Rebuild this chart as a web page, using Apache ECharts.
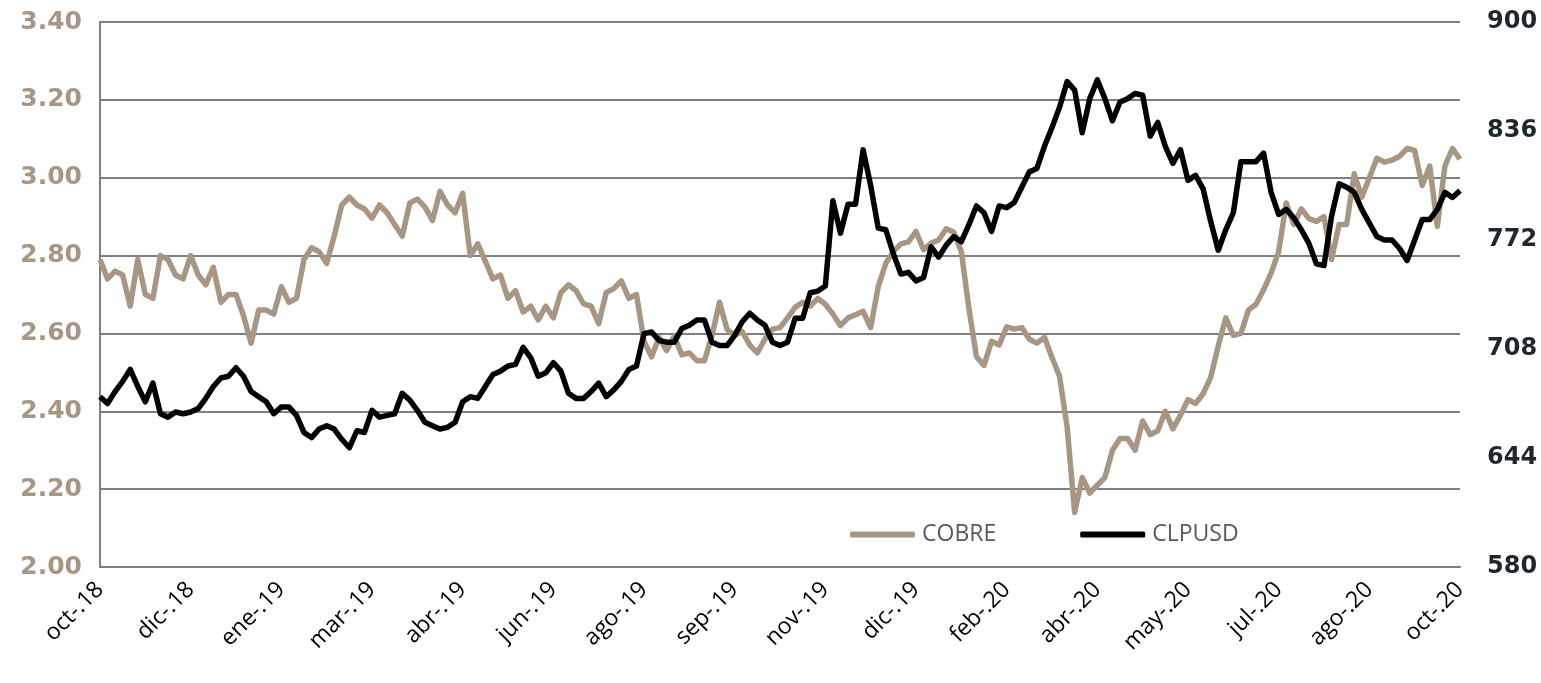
<!DOCTYPE html>
<html>
<head>
<meta charset="utf-8">
<script src="https://cdn.jsdelivr.net/npm/echarts@6/dist/echarts.min.js"></script>
<style>
  html, body { margin: 0; padding: 0; background: #fff; }
  #chart { width: 1541px; height: 683px; }
</style>
</head>
<body>
<div id="chart"></div>
<script>
// etiquetas del eje x (una cada 12 puntos)
const tickLabels = ['oct-.18', 'dic-.18', 'ene-.19', 'mar-.19', 'abr-.19', 'jun-.19', 'ago-.19', 'sep-.19',
  'nov-.19', 'dic-.19', 'feb-.20', 'abr-.20', 'may-.20', 'jul-.20', 'ago-.20', 'oct-.20'];

// cobre, US$/lb (eje izquierdo)
const cobre = [
  2.79, 2.74, 2.76, 2.75, 2.67, 2.79, 2.70, 2.69, 2.80, 2.79,
  2.75, 2.74, 2.80, 2.75, 2.725, 2.77, 2.68, 2.70, 2.70, 2.645,
  2.575, 2.66, 2.66, 2.65, 2.72, 2.68, 2.69, 2.79, 2.82, 2.81,
  2.78, 2.85, 2.93, 2.95, 2.93, 2.92, 2.896, 2.93, 2.91, 2.88,
  2.85, 2.935, 2.945, 2.925, 2.89, 2.965, 2.93, 2.91, 2.96, 2.80,
  2.83, 2.785, 2.74, 2.75, 2.69, 2.71, 2.655, 2.67, 2.635, 2.67,
  2.64, 2.705, 2.725, 2.71, 2.676, 2.67, 2.625, 2.705, 2.715, 2.735,
  2.69, 2.70, 2.58, 2.54, 2.59, 2.556, 2.593, 2.545, 2.55, 2.53,
  2.53, 2.595, 2.68, 2.61, 2.595, 2.605, 2.57, 2.55, 2.585, 2.611,
  2.615, 2.64, 2.667, 2.68, 2.67, 2.69, 2.675, 2.65, 2.62, 2.64,
  2.648, 2.657, 2.615, 2.72, 2.78, 2.81, 2.83, 2.835, 2.862, 2.815,
  2.832, 2.84, 2.869, 2.86, 2.81, 2.665, 2.54, 2.518, 2.58, 2.57,
  2.617, 2.611, 2.615, 2.585, 2.575, 2.59, 2.538, 2.49, 2.36, 2.14,
  2.23, 2.19, 2.21, 2.23, 2.30, 2.33, 2.33, 2.30, 2.375, 2.34,
  2.35, 2.40, 2.355, 2.39, 2.43, 2.42, 2.445, 2.487, 2.568, 2.64,
  2.595, 2.60, 2.66, 2.675, 2.712, 2.755, 2.81, 2.935, 2.88, 2.92,
  2.895, 2.888, 2.90, 2.79, 2.88, 2.88, 3.01, 2.95, 3.00, 3.05,
  3.04, 3.045, 3.055, 3.075, 3.07, 2.98, 3.03, 2.875, 3.03, 3.075,
  3.048
];

// peso chileno por dólar (eje derecho)
const clpusd = [
  680, 676, 683, 689, 696, 686, 677, 688, 670, 668,
  671, 670, 671, 673, 679, 686, 691, 692, 697, 692,
  683, 680, 677, 670, 674, 674, 669, 659, 656, 661,
  663, 661, 655, 650, 660, 659, 672, 668, 669, 670,
  682, 678, 672, 665, 663, 661, 662, 665, 677, 680,
  679, 686, 693, 695, 698, 699, 709, 703, 692, 694,
  700, 695, 682, 679, 679, 683, 688, 680, 684, 689,
  696, 698, 717, 718, 713, 712, 712, 720, 722, 725,
  725, 712, 710, 710, 716, 724, 729, 725, 722, 712,
  710, 712, 726, 726, 741, 742, 745, 795, 776, 793,
  793, 825, 804, 779, 778, 764, 752, 753, 748, 750,
  768, 762, 769, 774, 771, 781, 792, 788, 777, 792,
  791, 794, 803, 812, 814, 827, 838, 850, 865, 860,
  835, 855, 866, 855, 842, 853, 855, 858, 857, 833,
  841, 827, 817, 825, 807, 810, 802, 783, 766, 778,
  788, 818, 818, 818, 823, 800, 787, 790, 785, 778,
  770, 758, 757, 786, 805, 803, 800, 790, 782, 774,
  772, 772, 767, 760, 772, 784, 784, 790, 800, 797,
  801
];

const seriesNames = ['COBRE', 'CLPUSD'];

const chart = echarts.init(document.getElementById('chart'), null, { renderer: 'canvas' });

chart.setOption({
  animation: false,
  backgroundColor: '#ffffff',
  grid: { left: 100, right: 81, top: 22, bottom: 116, containLabel: false },
  legend: {
    data: seriesNames.map(n => ({ name: n, icon: 'roundRect' })),
    left: 845,
    top: 518,
    itemWidth: 65,
    itemHeight: 6,
    itemGap: 84,
    textStyle: { fontFamily: 'Open Sans', fontSize: 23, color: '#595959', padding: [0, 0, 0, 2] }
  },
  xAxis: {
    type: 'value',
    min: 0,
    max: 180,
    interval: 12,
    axisLine: { show: true, lineStyle: { color: '#7f7f7f', width: 2 } },
    axisTick: { show: false },
    splitLine: { show: false },
    axisLabel: {
      rotate: 45,
      margin: 19,
      showMaxLabel: true,
      fontFamily: 'Open Sans',
      fontSize: 23,
      color: '#000000',
      formatter: v => tickLabels[Math.round(v / 12)] || ''
    }
  },
  yAxis: [{
    type: 'value',
    min: 2,
    max: 3.4,
    interval: 0.2,
    axisLine: { show: true, lineStyle: { color: '#7f7f7f', width: 2 } },
    axisTick: { show: false },
    splitLine: { show: true, lineStyle: { color: '#7f7f7f', width: 2 } },
    axisLabel: {
      margin: 18,
      fontFamily: 'DejaVu Sans',
      fontWeight: 'bold',
      fontSize: 25,
      color: '#a89685',
      formatter: v => v.toFixed(2)
    }
  }, {
    type: 'value',
    min: 580,
    max: 900,
    interval: 64,
    position: 'right',
    axisLine: { show: false },
    axisTick: { show: false },
    splitLine: { show: false },
    axisLabel: {
      margin: 27,
      fontFamily: 'DejaVu Sans',
      fontWeight: 'bold',
      fontSize: 24,
      color: '#1f262e'
    }
  }],
  series: [{
    name: 'COBRE',
    type: 'line',
    yAxisIndex: 0,
    showSymbol: false,
    data: cobre.map((v, i) => [i, v]),
    itemStyle: { color: '#a89685' },
    lineStyle: { color: '#a89685', width: 5.5, join: 'round' }
  }, {
    name: 'CLPUSD',
    type: 'line',
    yAxisIndex: 1,
    showSymbol: false,
    data: clpusd.map((v, i) => [i, v]),
    itemStyle: { color: '#000000' },
    lineStyle: { color: '#000000', width: 5.5, join: 'round' }
  }]
});
</script>
</body>
</html>
